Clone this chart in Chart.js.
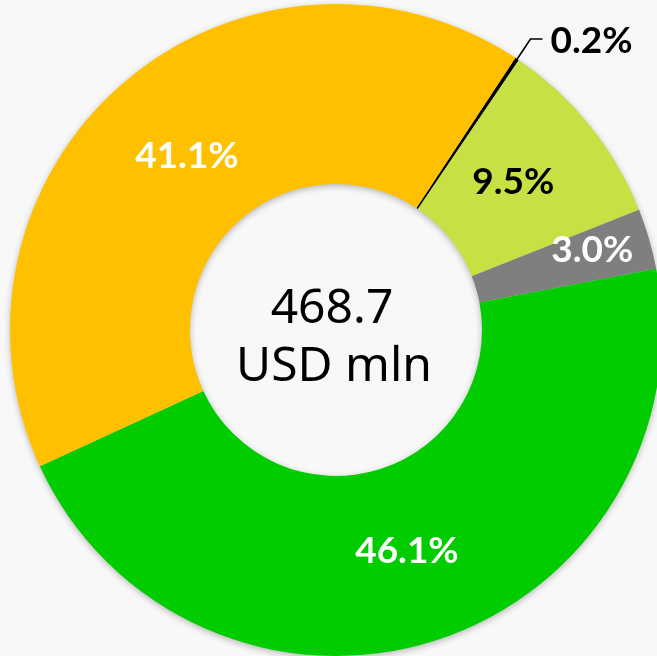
<!DOCTYPE html>
<html>
<head>
<meta charset="utf-8">
<script src="https://cdn.jsdelivr.net/npm/chart.js@4/dist/chart.umd.min.js"></script>
<style>
  html, body { margin: 0; padding: 0; background: #f8f8f8; overflow: hidden; width: 657px; height: 656px; }
  #wrap { position: absolute; left: 0; top: 0; width: 672px; height: 660px; }
</style>
</head>
<body>
<div id="wrap"><canvas id="c" width="672" height="660"></canvas></div>
<script>
// ---- data ----
const categories = ["Other", "Segment B", "Segment C", "Segment D", "Segment A"];
const shares = [0.2, 9.5, 3.0, 46.1, 41.1];
const labels = ["0.2%", "9.5%", "3.0%", "46.1%", "41.1%"];
const sliceColors = ["#000000", "#c7e043", "#7f7f7f", "#00cc00", "#ffc000"];
const labelColors = ["#000000", "#000000", "#ffffff", "#ffffff", "#ffffff"];
const centerLines = ["468.7", "USD mln"];

// label placement tweaks (radius as fraction of ring, angle shift in degrees)
const labelRadiusFrac = [null, 0.47, 0.68, 0.48, 0.46];
const labelAngleShift = [0, -1, -1, 0, 0];

const ringShadow = {
  id: "ringShadow",
  beforeDatasetsDraw(chart) {
    const arc = chart.getDatasetMeta(0).data[0];
    if (!arc) return;
    const { x, y, innerRadius, outerRadius } = arc.getProps(["x", "y", "innerRadius", "outerRadius"], true);
    const ctx = chart.ctx;
    ctx.save();
    ctx.shadowColor = "rgba(0,0,0,0.3)";
    ctx.shadowBlur = 7;
    ctx.shadowOffsetX = 0;
    ctx.shadowOffsetY = 2;
    ctx.beginPath();
    ctx.arc(x, y, outerRadius - 0.5, 0, Math.PI * 2);
    ctx.arc(x, y, innerRadius + 0.5, 0, Math.PI * 2, true);
    ctx.closePath();
    ctx.fillStyle = "#cccccc";
    ctx.fill("evenodd");
    ctx.restore();
  }
};

const sliceLabels = {
  id: "sliceLabels",
  afterDatasetsDraw(chart) {
    const ctx = chart.ctx;
    const meta = chart.getDatasetMeta(0);
    ctx.save();
    ctx.font = "bold 37px Lato";
    ctx.textBaseline = "middle";
    meta.data.forEach((arc, i) => {
      const p = arc.getProps(["x", "y", "startAngle", "endAngle", "innerRadius", "outerRadius"], true);
      const mid = (p.startAngle + p.endAngle) / 2 + labelAngleShift[i] * Math.PI / 180;
      ctx.fillStyle = labelColors[i];
      if (labelRadiusFrac[i] === null) {
        const ax = p.x + Math.cos(mid) * p.outerRadius;
        const ay = p.y + Math.sin(mid) * p.outerRadius;
        const bx = p.x + Math.cos(mid) * (p.outerRadius + 24);
        const by = p.y + Math.sin(mid) * (p.outerRadius + 24);
        ctx.strokeStyle = "#000000";
        ctx.lineWidth = 1.6;
        ctx.beginPath();
        ctx.moveTo(ax, ay);
        ctx.lineTo(bx, by);
        ctx.lineTo(bx + 12, by);
        ctx.stroke();
        ctx.textAlign = "left";
        ctx.fillText(labels[i], bx + 20, by + 2);
      } else {
        const r = p.innerRadius + (p.outerRadius - p.innerRadius) * labelRadiusFrac[i];
        ctx.textAlign = "center";
        ctx.fillText(labels[i], p.x + Math.cos(mid) * r, p.y + Math.sin(mid) * r);
      }
    });
    const a0 = meta.data[0].getProps(["x", "y"], true);
    ctx.fillStyle = "#000000";
    ctx.font = "48px 'Noto Sans'";
    ctx.textAlign = "center";
    ctx.fillText(centerLines[0], a0.x - 4, a0.y - 21);
    ctx.fillText(centerLines[1], a0.x - 2, a0.y + 37);
    ctx.restore();
  }
};

new Chart(document.getElementById("c"), {
  type: "doughnut",
  data: {
    labels: categories,
    datasets: [{
      data: shares,
      backgroundColor: sliceColors,
      borderWidth: 0,
      hoverOffset: 0
    }]
  },
  options: {
    responsive: false,
    animation: false,
    cutout: "44.8%",
    rotation: 33.4,
    layout: { padding: 4 },
    plugins: {
      legend: { display: false },
      tooltip: { enabled: false }
    },
    events: []
  },
  plugins: [ringShadow, sliceLabels]
});
</script>
</body>
</html>
